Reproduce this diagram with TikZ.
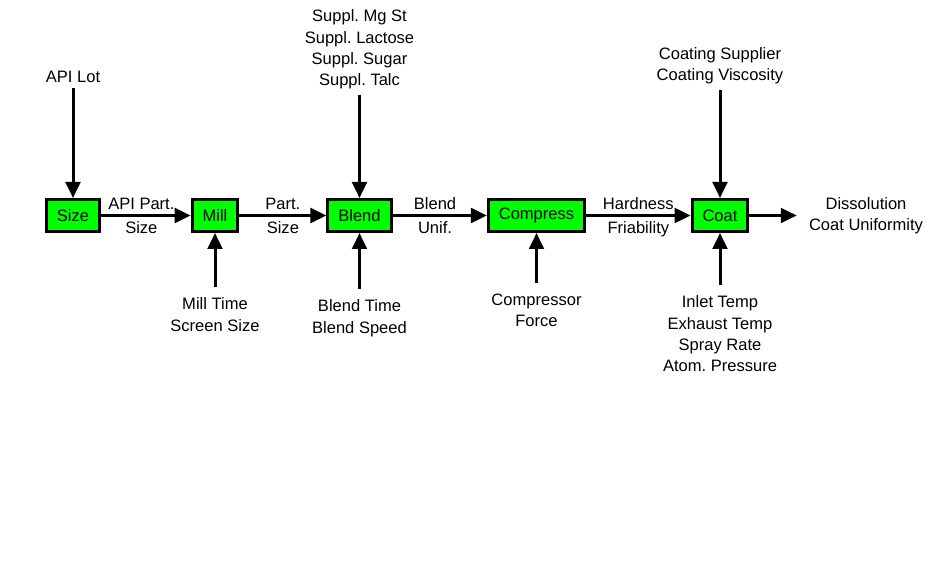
\documentclass[tikz,border=0pt]{standalone}
\usepackage{fontspec}
\setmainfont{Liberation Sans}
\usetikzlibrary{arrows.meta}
\frenchspacing
\definecolor{boxgreen}{rgb}{0, 1, 0}
\tikzstyle{every node}=[font=\fontsize{12.4}{16}\selectfont]
\tikzstyle{procbox}=[draw, line width=2.25pt, fill=boxgreen, minimum height=24pt, inner xsep=7.8pt, inner ysep=0pt]
\tikzstyle{flow}=[line width=2.25pt, -{Triangle[length=12pt,width=11pt]}]
\tikzstyle{toplbl}=[align=center, inner sep=4pt, anchor=south]
\tikzstyle{botlbl}=[align=center, inner sep=8pt, anchor=north]

\begin{document}
\begin{tikzpicture}[x=0.75pt, y=-0.75pt]
\useasboundingbox (0,0) rectangle (933,563);

% process steps
\node[procbox] (size) at (73,215.5) {Size};
\node[procbox] (mill) at (215,215.5) {Mill};
\node[procbox] (blend) at (359.5,215.5) {Blend};
\node[procbox] (compress) at (536.5,215.5) {Compress};
\node[procbox] (coat) at (720,215.5) {Coat};

% inputs and settings
\node[toplbl] (lot) at (73,88) {API Lot};
\node[toplbl] (suppl) at (359.5,95) {Suppl. Mg St\\Suppl. Lactose\\Suppl. Sugar\\Suppl. Talc};
\node[toplbl] (coatsrc) at (720,90) {Coating Supplier\\Coating Viscosity};
\node[botlbl] (millset) at (215,287) {Mill Time\\Screen Size};
\node[botlbl] (blendset) at (359.5,289) {Blend Time\\Blend Speed};
\node[botlbl] (compset) at (536.5,283) {Compressor\\Force};
\node[botlbl] (coatset) at (720,285) {Inlet Temp\\Exhaust Temp\\Spray Rate\\Atom. Pressure};
\node[align=center, inner xsep=9pt] (out) at (866,215.5) {Dissolution\\Coat Uniformity};

\draw[flow] (lot) -- (size);
\draw[flow] (suppl) -- (blend);
\draw[flow] (coatsrc) -- (coat);
\draw[flow] (millset) -- (mill);
\draw[flow] (blendset) -- (blend);
\draw[flow] (compset) -- (compress);
\draw[flow] (coatset) -- (coat);

\draw[flow] (size) -- node[above, pos=0.45] {API Part.} node[below, pos=0.45] {Size} (mill);
\draw[flow] (mill) -- node[above] {Part.} node[below] {Size} (blend);
\draw[flow] (blend) -- node[above, pos=0.45] {Blend} node[below, pos=0.45] {Unif.} (compress);
\draw[flow] (compress) -- node[above] {Hardness} node[below] {Friability} (coat);
\draw[flow] (coat) -- (out);

\end{tikzpicture}
\end{document}
